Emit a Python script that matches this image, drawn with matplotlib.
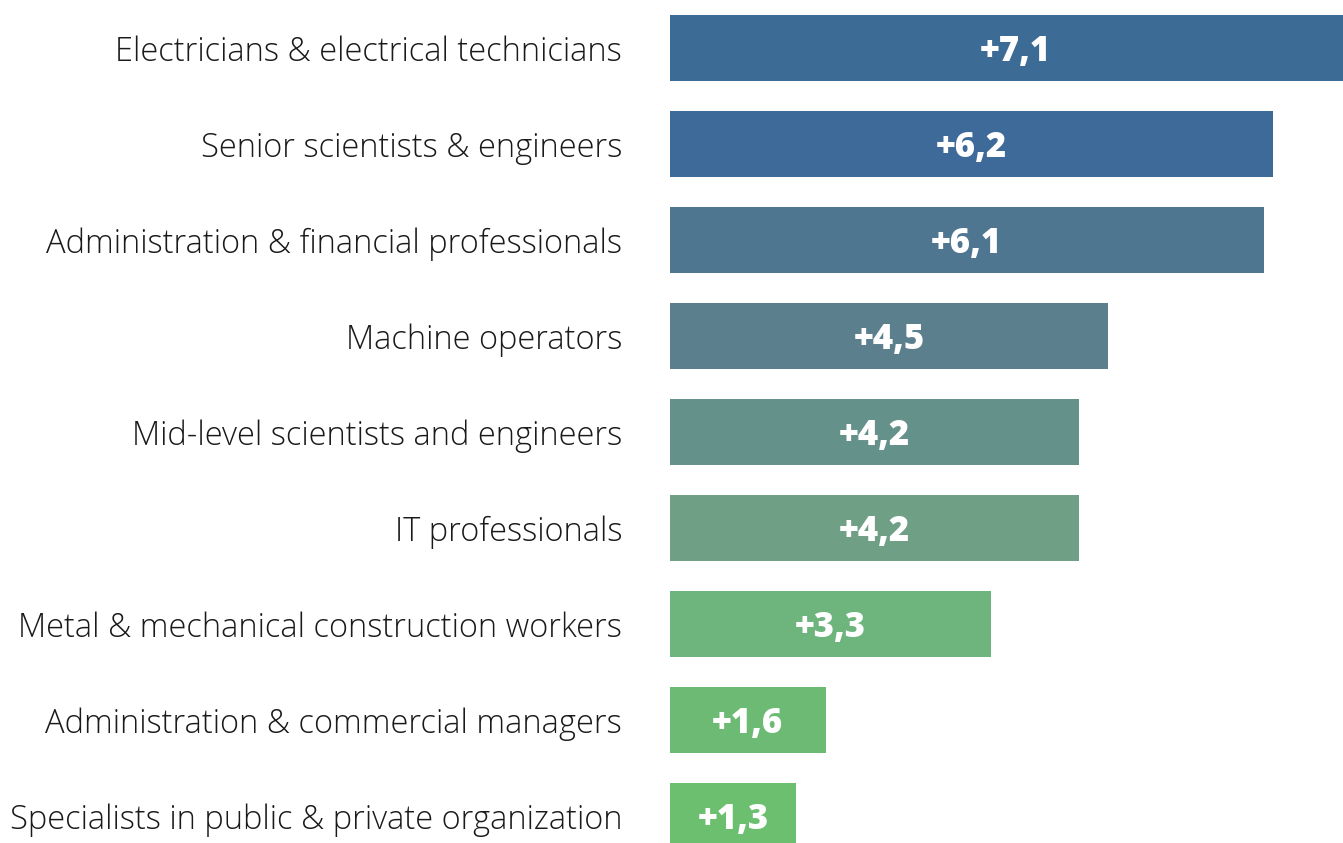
import matplotlib.pyplot as plt
import numpy as np

plt.rcParams.update(
    {
        "font.family": ["Open Sans", "DejaVu Sans"],
        "font.size": 23.5,
        "figure.dpi": 100,
        "savefig.dpi": 100,
    }
)

occupations = [
    "Electricians & electrical technicians",
    "Senior scientists & engineers",
    "Administration & financial professionals",
    "Machine operators",
    "Mid-level scientists and engineers",
    "IT professionals",
    "Metal & mechanical construction workers",
    "Administration & commercial managers",
    "Specialists in public & private organization",
]
values = [7.1, 6.2, 6.1, 4.5, 4.2, 4.2, 3.3, 1.6, 1.3]
colors = [
    "#3C6C96",
    "#3E6A9A",
    "#4E7690",
    "#5B7F8C",
    "#64928A",
    "#6FA086",
    "#6EB47D",
    "#6DBA74",
    "#6BBF6F",
]

W, H = 1343, 843
fig = plt.figure(figsize=(W / 100, H / 100))
left = 670 / W
ax = fig.add_axes([left, 0, 1 - left, 1])

y = np.arange(len(values))
ax.barh(y, values, height=0.69, color=colors)

# value labels centred in each bar
for yi, v in zip(y, values):
    label = f"+{v:.1f}".replace(".", ",")
    ax.text(v / 2, yi + 0.04, label, ha="center", va="center",
            color="white", fontweight=800, fontsize=25)

ax.set_xlim(0, 673 / 97.3)
ax.set_ylim((H - 48) / 96, -0.5)
ax.set_yticks(y)
ax.set_yticklabels(occupations, fontweight="light", color="#1a1a1a")
ax.tick_params(axis="y", length=0, pad=34.5)
ax.set_xticks([])
for s in ax.spines.values():
    s.set_visible(False)

fig.savefig("out.png", dpi=100)
